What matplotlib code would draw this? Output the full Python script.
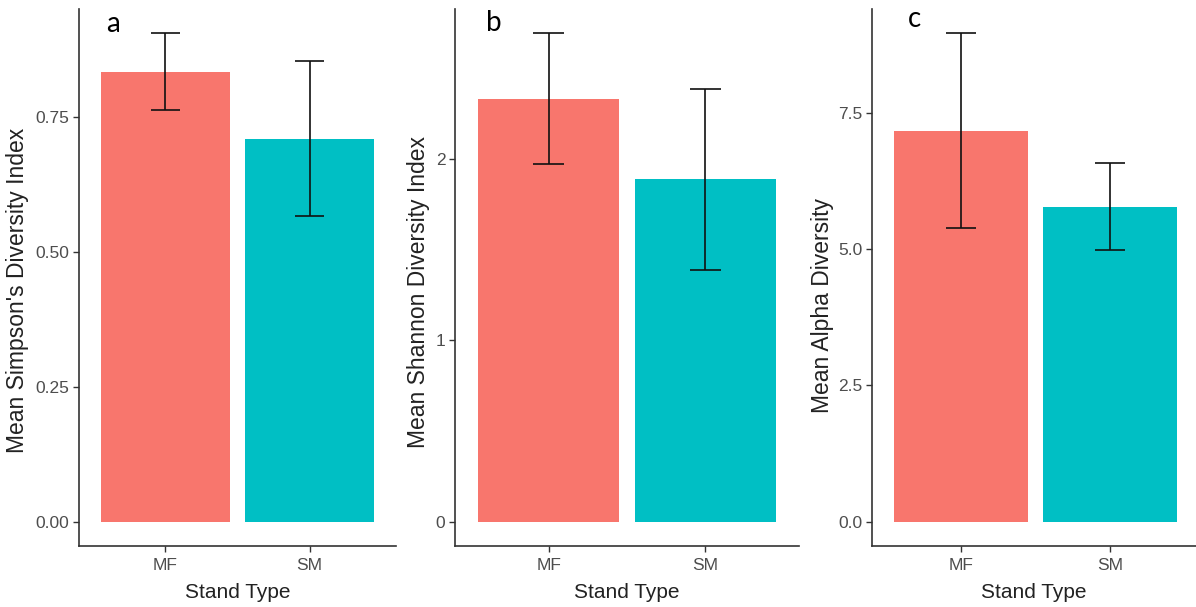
import matplotlib
matplotlib.use("Agg")
import matplotlib.pyplot as plt

# data
stand_types = ["MF", "SM"]
bar_colors = ["#F8766D", "#00BFC4"]

simpson_mean = [0.834, 0.710]
simpson_err = [0.071, 0.144]

shannon_mean = [2.335, 1.89]
shannon_err = [0.36, 0.50]

alpha_mean = [7.17, 5.78]
alpha_err = [1.79, 0.80]

panel_letters = ["a", "b", "c"]
y_titles = ["Mean Simpson's Diversity Index", "Mean Shannon Diversity Index", "Mean Alpha Diversity"]
y_ticks = [[0.0, 0.25, 0.5, 0.75], [0, 1, 2], [0.0, 2.5, 5.0, 7.5]]
y_ticklabels = [["0.00", "0.25", "0.50", "0.75"], ["0", "1", "2"], ["0.0", "2.5", "5.0", "7.5"]]

W, H = 1196, 607
plt.rcParams["font.family"] = ["Liberation Sans", "DejaVu Sans"]

fig = plt.figure(figsize=(W / 100, H / 100), dpi=100)

# axes boxes in pixels: left, right, top, bottom
boxes = [(79, 396, 9, 546), (455, 799, 9, 546), (872, 1196, 9, 546)]
xlims = [(0.4, 2.6), (0.4, 2.6), (0.4, 2.58)]
ylabel_xy = [(18, 290), (418, 292), (822, 305)]
letter_pos = [(106, 32), (486, 31), (908, 27)]

panels = [(simpson_mean, simpson_err), (shannon_mean, shannon_err), (alpha_mean, alpha_err)]
xs = [1, 2]

for i, (means, errs) in enumerate(panels):
    l, r, t, b = boxes[i]
    ax = fig.add_axes([l / W, 1 - b / H, (r - l) / W, (b - t) / H])
    ax.bar(xs, means, width=0.9, color=bar_colors)
    lo = [m - e for m, e in zip(means, errs)]
    hi = [m + e for m, e in zip(means, errs)]
    ax.vlines(xs, lo, hi, color="#111111", lw=1.2)
    for x, a, c in zip(xs, lo, hi):
        ax.hlines([a, c], x - 0.1, x + 0.1, color="#111111", lw=1.2)

    top = max(hi)
    ax.set_ylim(-0.05 * top, 1.05 * top)
    ax.set_xlim(*xlims[i])
    ax.set_xticks(xs)
    ax.set_xticklabels(stand_types)
    ax.set_yticks(y_ticks[i])
    ax.set_yticklabels(y_ticklabels[i])

    for s in ["top", "right"]:
        ax.spines[s].set_visible(False)
    for s in ["left", "bottom"]:
        ax.spines[s].set_color("#333333")
        ax.spines[s].set_linewidth(1.2)
    ax.tick_params(axis="both", colors="#333333", labelcolor="#4D4D4D",
                   labelsize=12.5, length=4, width=1.0, pad=3)
    ax.tick_params(axis="x", pad=5)

    ax.set_xlabel("Stand Type", fontsize=15, color="#222222")
    ax.xaxis.set_label_coords(0.5, -(592 - b) / (b - t), transform=ax.transAxes)
    ax.set_ylabel(y_titles[i], fontsize=16.5, color="#222222")
    yx, yy = ylabel_xy[i]
    ax.yaxis.set_label_coords((yx - l) / (r - l), (b - yy) / (b - t))
    ax.xaxis.label.set_va("center")
    ax.yaxis.label.set_va("center")

    lx, ly = letter_pos[i]
    fig.text(lx / W, 1 - ly / H, panel_letters[i], fontsize=20, family="Lato",
             color="black", va="baseline", ha="left")

fig.savefig("out.png", dpi=100)
